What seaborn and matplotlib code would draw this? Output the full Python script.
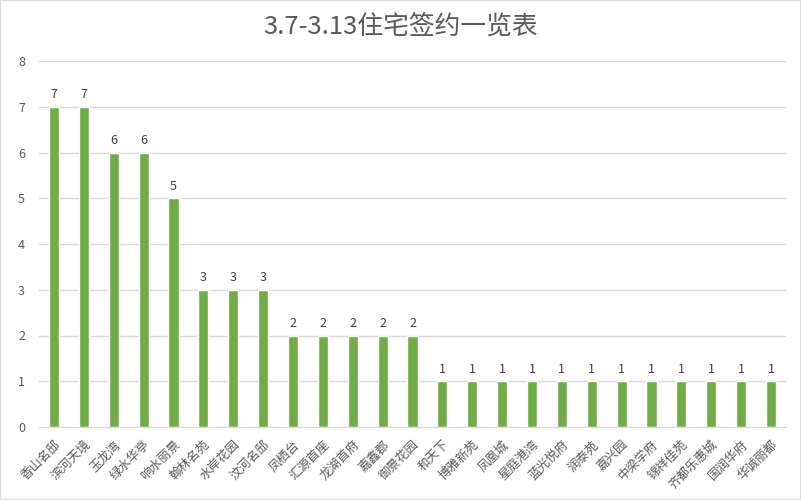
import matplotlib
matplotlib.use("Agg")
import matplotlib.pyplot as plt
import seaborn as sns
import pandas as pd
from matplotlib.patches import Rectangle

projects = ["香山名邸", "滨河天境", "玉龙湾", "绿水华亭", "响水丽景", "翰林名苑", "水岸花园",
            "汶河名邸", "凤栖台", "汇源首座", "龙湖首府", "嘉鑫郡", "御景花园", "和天下",
            "博雅新苑", "凤凰城", "星庭港湾", "蓝光悦府", "润泰苑", "嘉兴园", "中梁学府",
            "锦祥佳苑", "齐都乐惠城", "国润华府", "华诚丽都"]
counts = [7, 7, 6, 6, 5, 3, 3, 3, 2, 2, 2, 2, 2, 1, 1, 1, 1, 1, 1, 1, 1, 1, 1, 1, 1]
title = "3.7-3.13住宅签约一览表"

df = pd.DataFrame({"项目": projects, "套数": counts})

sns.set_style("white")
plt.rcParams["font.family"] = ["Noto Sans CJK SC", "DejaVu Sans"]

fig = plt.figure(figsize=(8.01, 5.0), dpi=100)
ax = fig.add_axes([39 / 801, 1 - 427 / 500, (786 - 39) / 801, (427 - 61) / 500])

sns.barplot(data=df, x="项目", y="套数", color="#70AD47", width=0.34,
            saturation=1, ax=ax, zorder=3)

ax.set_ylim(0, 8)
ax.set_xlim(-0.5, len(projects) - 0.5)
ax.set_yticks(range(0, 9))
ax.yaxis.grid(True, color="#D9D9D9", linewidth=1, zorder=0)
for s in ["top", "right", "left"]:
    ax.spines[s].set_visible(False)
ax.spines["bottom"].set_color("#D9D9D9")
ax.spines["bottom"].set_zorder(4)
ax.set_xlabel("")
ax.set_ylabel("")
ax.tick_params(axis="both", length=0, colors="#595959", labelsize=9)
ax.tick_params(axis="y", pad=10)
ax.tick_params(axis="x", pad=8)
plt.setp(ax.get_xticklabels(), rotation=45, ha="right", rotation_mode="anchor")

for c in ax.containers:
    ax.bar_label(c, padding=4, fontsize=9, color="#404040")

fig.text(0.5, 1 - 28 / 500, title, ha="center", va="center",
         fontsize=18.5, color="#595959")

fig.patches.append(Rectangle((0, 0), 1, 1, transform=fig.transFigure,
                             fill=False, edgecolor="#D9D9D9", linewidth=1.5))

fig.savefig("out.png", dpi=100)
